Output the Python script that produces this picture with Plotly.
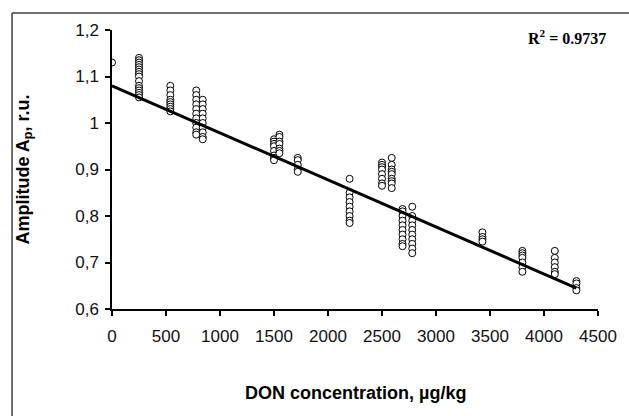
import plotly.graph_objects as go

# ---- data ----
group_x = [0, 250, 540, 780, 840, 1500, 1550, 1720, 2200, 2500, 2590, 2690, 2780, 3430, 3800, 4100, 4300]
group_y = [
    [1.13],
    [1.14, 1.135, 1.13, 1.125, 1.12, 1.115, 1.11, 1.105, 1.10, 1.09, 1.08, 1.075, 1.07, 1.065, 1.06, 1.055],
    [1.08, 1.07, 1.06, 1.05, 1.045, 1.04, 1.035, 1.03, 1.025],
    [1.07, 1.06, 1.05, 1.04, 1.03, 1.02, 1.01, 1.00, 0.99, 0.98, 0.975],
    [1.05, 1.04, 1.03, 1.02, 1.01, 1.00, 0.99, 0.98, 0.97, 0.965],
    [0.965, 0.96, 0.955, 0.95, 0.94, 0.93, 0.925, 0.92],
    [0.975, 0.97, 0.96, 0.955, 0.945, 0.94, 0.935],
    [0.925, 0.92, 0.91, 0.90, 0.895],
    [0.88, 0.85, 0.84, 0.83, 0.82, 0.81, 0.80, 0.79, 0.785],
    [0.915, 0.91, 0.905, 0.90, 0.89, 0.88, 0.87, 0.865],
    [0.925, 0.91, 0.90, 0.895, 0.89, 0.88, 0.875, 0.87, 0.86],
    [0.815, 0.81, 0.80, 0.79, 0.78, 0.77, 0.76, 0.75, 0.74, 0.735],
    [0.82, 0.80, 0.79, 0.78, 0.77, 0.76, 0.75, 0.74, 0.73, 0.72],
    [0.765, 0.755, 0.75, 0.745],
    [0.725, 0.72, 0.715, 0.71, 0.70, 0.69, 0.68],
    [0.725, 0.71, 0.70, 0.69, 0.68, 0.675],
    [0.66, 0.655, 0.645, 0.64],
]
trend_x = [0, 4300]
trend_y = [1.08, 0.645]
r2_text = "R<sup>2</sup> = 0.9737"

x_tickvals = [0, 500, 1000, 1500, 2000, 2500, 3000, 3500, 4000, 4500]
x_ticktext = ["0", "500", "1000", "1500", "2000", "2500", "3000", "3500", "4000", "4500"]
y_tickvals = [0.6, 0.7, 0.8, 0.9, 1.0, 1.1, 1.2]
y_ticktext = ["0,6", "0,7", "0,8", "0,9", "1", "1,1", "1,2"]

xs, ys = [], []
for gx, gys in zip(group_x, group_y):
    for v in gys:
        xs.append(gx)
        ys.append(v)

SANS = "Liberation Sans, Arial, sans-serif"

fig = go.Figure()
fig.add_trace(go.Scatter(
    x=xs, y=ys, mode="markers",
    marker=dict(symbol="circle", size=7, color="white",
                line=dict(color="black", width=1)),
    showlegend=False))
fig.add_trace(go.Scatter(
    x=trend_x, y=trend_y, mode="lines",
    line=dict(color="black", width=3), showlegend=False, hoverinfo="skip"))

axis_common = dict(
    showgrid=False, zeroline=False, showline=True, linecolor="black", linewidth=1.5,
    ticks="outside", ticklen=5, tickcolor="black", tickwidth=1.5,
    tickfont=dict(family=SANS, size=17, color="#111"), mirror=False)

fig.update_xaxes(range=[0, 4500], tickvals=x_tickvals, ticktext=x_ticktext,
                 ticklabelstandoff=6, **axis_common)
fig.update_yaxes(range=[0.6, 1.2], tickvals=y_tickvals, ticktext=y_ticktext,
                 ticklabelstandoff=3, **axis_common)

fig.update_layout(
    width=629, height=416,
    margin=dict(l=112, r=21, t=30, b=107),
    paper_bgcolor="white", plot_bgcolor="white",
    annotations=[
        dict(text="Amplitude A<sub>p</sub>, r.u.", xref="paper", yref="paper",
             x=-0.181, y=0.5, textangle=-90, showarrow=False,
             xanchor="center", yanchor="middle",
             font=dict(family=SANS, size=18, color="black", weight="bold")),
        dict(text="DON concentration, µg/kg", xref="paper", yref="paper",
             x=0.5, y=-0.301, showarrow=False, xanchor="center", yanchor="middle",
             font=dict(family=SANS, size=18, color="black", weight="bold")),
        dict(text=r2_text, xref="paper", yref="paper",
             x=1.02, y=0.975, showarrow=False, xanchor="right", yanchor="middle",
             font=dict(family="Liberation Serif, Times New Roman, serif", size=16,
                       color="black", weight="bold")),
    ],
    shapes=[
        dict(type="line", xref="paper", yref="paper",
             x0=(10 - 112) / 496, x1=(10 - 112) / 496, y0=(309 - 13) / 279, y1=-0.5,
             line=dict(color="#404040", width=1.5)),
        dict(type="line", xref="paper", yref="paper",
             x0=(10 - 112) / 496, x1=1.1, y0=(309 - 13) / 279, y1=(309 - 13) / 279,
             line=dict(color="#404040", width=1.5)),
    ],
)

fig.write_html("out.html")
